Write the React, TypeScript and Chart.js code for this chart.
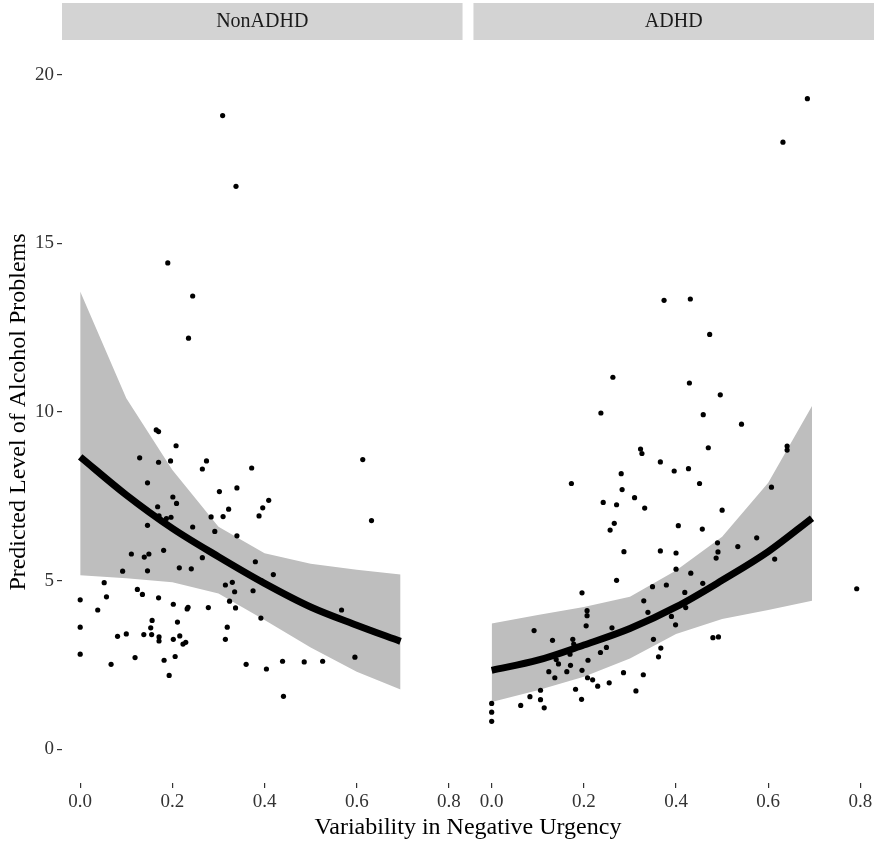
import React, { useEffect, useRef } from 'react';
import { Chart, registerables } from 'chart.js';

Chart.register(...registerables);

// ---------- data ----------
const PANELS = ['NonADHD', 'ADHD'];
const X_TICKS = [0, 0.2, 0.4, 0.6, 0.8];
const Y_TICKS = [0, 5, 10, 15, 20];
const X_TITLE = 'Variability in Negative Urgency';
const Y_TITLE = 'Predicted Level of Alcohol Problems';

const NON_X = [
  0.309, 0.338, 0.190, 0.244, 0.235, 0.165, 0.170, 0.208, 0.129, 0.170, 0.196, 0.274, 0.265, 0.372, 0.146,
  0.340, 0.302, 0.201, 0.209, 0.409, 0.168, 0.396, 0.322, 0.171, 0.197, 0.187, 0.284, 0.310, 0.388, 0.146,
  0.244, 0.292, 0.340, 0.181, 0.111, 0.149, 0.139, 0.265, 0.380, 0.092, 0.146, 0.215, 0.241, 0.419, 0.394,
  0.052, 0.315, 0.330, 0.124, 0.135, 0.335, 0.375, 0.057, 0.170, 0.000, 0.324, 0.202, 0.234, 0.232, 0.278,
  0.337, 0.038, 0.567, 0.392, 0.156, 0.211, 0.000, 0.153, 0.319, 0.081, 0.100, 0.138, 0.155, 0.171, 0.171,
  0.202, 0.216, 0.229, 0.223, 0.315, 0.000, 0.119, 0.206, 0.182, 0.067, 0.360, 0.404, 0.439, 0.486, 0.526,
  0.596, 0.193, 0.441, 0.613, 0.632,
];
const NON_Y = [
  18.79, 16.69, 14.42, 13.44, 12.19, 9.47, 9.42, 9.00, 8.64, 8.51, 8.55, 8.55, 8.31, 8.34, 7.90,
  7.75, 7.64, 7.48, 7.29, 7.38, 7.19, 7.16, 7.12, 6.92, 6.88, 6.84, 6.89, 6.90, 6.92, 6.64,
  6.59, 6.46, 6.33, 5.90, 5.79, 5.79, 5.70, 5.68, 5.56, 5.28, 5.29, 5.38, 5.35, 5.18, 4.99,
  4.94, 4.87, 4.95, 4.74, 4.59, 4.67, 4.70, 4.52, 4.49, 4.43, 4.39, 4.30, 4.21, 4.16, 4.20,
  4.19, 4.13, 4.13, 3.89, 3.82, 3.77, 3.62, 3.60, 3.62, 3.35, 3.42, 3.40, 3.40, 3.33, 3.21,
  3.26, 3.36, 3.17, 3.12, 3.26, 2.82, 2.72, 2.75, 2.64, 2.52, 2.52, 2.38, 2.61, 2.59, 2.61,
  2.73, 2.19, 1.57, 8.59, 6.78,
];

const ADHD_X = [
  0.685, 0.632, 0.374, 0.431, 0.473, 0.263, 0.429, 0.496, 0.237, 0.459, 0.542, 0.470, 0.641, 0.641, 0.323,
  0.326, 0.366, 0.396, 0.427, 0.281, 0.173, 0.451, 0.607, 0.283, 0.310, 0.242, 0.271, 0.332, 0.500, 0.266,
  0.257, 0.405, 0.457, 0.575, 0.490, 0.534, 0.614, 0.287, 0.366, 0.400, 0.491, 0.487, 0.400, 0.432, 0.271,
  0.458, 0.379, 0.349, 0.792, 0.196, 0.419, 0.330, 0.421, 0.207, 0.339, 0.207, 0.390, 0.205, 0.399, 0.261,
  0.092, 0.132, 0.176, 0.351, 0.480, 0.492, 0.178, 0.249, 0.367, 0.236, 0.170, 0.362, 0.209, 0.140, 0.145,
  0.171, 0.196, 0.124, 0.163, 0.286, 0.329, 0.137, 0.208, 0.219, 0.255, 0.230, 0.182, 0.313, 0.106, 0.083,
  0.106, 0.195, 0.063, 0.114, 0.000, 0.000, 0.000,
];
const ADHD_Y = [
  19.29, 18.00, 13.31, 13.35, 12.30, 11.03, 10.86, 10.51, 9.97, 9.92, 9.64, 8.94, 8.99, 8.87, 8.90,
  8.77, 8.52, 8.25, 8.32, 8.17, 7.88, 7.88, 7.77, 7.70, 7.46, 7.32, 7.25, 7.15, 7.09, 6.70,
  6.50, 6.63, 6.53, 6.27, 6.12, 6.01, 5.64, 5.86, 5.88, 5.82, 5.85, 5.67, 5.34, 5.22, 5.01,
  4.92, 4.87, 4.82, 4.76, 4.64, 4.65, 4.40, 4.20, 4.11, 4.06, 3.96, 3.94, 3.66, 3.69, 3.60,
  3.52, 3.23, 3.26, 3.26, 3.31, 3.33, 3.12, 3.02, 3.00, 2.87, 2.82, 2.74, 2.64, 2.66, 2.53,
  2.49, 2.34, 2.30, 2.30, 2.27, 2.21, 2.12, 2.12, 2.06, 1.97, 1.87, 1.78, 1.73, 1.75, 1.56,
  1.47, 1.48, 1.30, 1.23, 1.36, 1.10, 0.83,
];

const FIT_X = [0, 0.1, 0.2, 0.3, 0.4, 0.5, 0.6, 0.695];
const NON_FIT = [8.67, 7.54, 6.55, 5.71, 4.92, 4.22, 3.68, 3.2];
const NON_HI = [13.57, 10.41, 8.28, 6.6, 5.81, 5.5, 5.32, 5.18];
const NON_LO = [5.16, 5.07, 4.95, 4.62, 3.83, 3.02, 2.3, 1.77];
const ADHD_FIT = [2.34, 2.64, 3.09, 3.58, 4.22, 5.01, 5.86, 6.85];
const ADHD_HI = [3.73, 3.98, 4.22, 4.52, 5.3, 6.3, 7.9, 10.18];
const ADHD_LO = [1.4, 1.75, 2.15, 2.69, 3.42, 3.86, 4.13, 4.4];

// ---------- layout (not data) ----------
const X_LO = -0.0395;
const X_HI = 0.8295;
const RIGHT_OFFSET = 0.8927;
const FONT = '"Liberation Serif", "Times New Roman", serif';

const pts = (xs: number[], ys: number[], off: number) => xs.map((x, i) => ({ x: x + off, y: ys[i] }));

const stripPlugin = {
  id: 'strips',
  beforeDraw(chart: any) {
    const { ctx, chartArea, scales } = chart;
    const xs = scales.x;
    const ranges = [
      [X_LO, X_HI],
      [RIGHT_OFFSET + X_LO, RIGHT_OFFSET + X_HI],
    ];
    ctx.save();
    ranges.forEach(([a, b], i) => {
      const l = xs.getPixelForValue(a);
      const r = Math.min(xs.getPixelForValue(b), chartArea.right);
      const top = chartArea.top - 38;
      ctx.fillStyle = '#D3D3D3';
      ctx.fillRect(l, top, r - l, 37);
      ctx.fillStyle = '#1A1A1A';
      ctx.font = `20px ${FONT}`;
      ctx.textAlign = 'center';
      ctx.textBaseline = 'middle';
      ctx.fillText(PANELS[i], (l + r) / 2, top + 19);
    });
    ctx.restore();
  },
};

export default function App() {
  const ref = useRef<HTMLCanvasElement>(null);

  useEffect(() => {
    if (!ref.current) return;
    const ribbon = (lo: number[], hi: number[], off: number) => [
      {
        type: 'line',
        data: pts(FIT_X, lo, off),
        borderWidth: 0,
        pointRadius: 0,
        tension: 0,
        fill: false,
        order: 5,
      },
      {
        type: 'line',
        data: pts(FIT_X, hi, off),
        borderWidth: 0,
        pointRadius: 0,
        tension: 0,
        fill: '-1',
        backgroundColor: '#BEBEBE',
        order: 5,
      },
    ];
    const scatter = (xs: number[], ys: number[], off: number) => ({
      type: 'scatter',
      data: pts(xs, ys, off),
      pointRadius: 2.6,
      pointBackgroundColor: '#000',
      pointBorderWidth: 0,
      backgroundColor: '#000',
      borderWidth: 0,
      order: 3,
    });
    const fit = (ys: number[], off: number) => ({
      type: 'line',
      data: pts(FIT_X, ys, off),
      borderColor: '#000',
      borderWidth: 7,
      borderCapStyle: 'butt',
      pointRadius: 0,
      cubicInterpolationMode: 'monotone',
      fill: false,
      order: 1,
    });

    const chart = new Chart(ref.current, {
      type: 'scatter',
      data: {
        datasets: [
          ...ribbon(NON_LO, NON_HI, 0),
          ...ribbon(ADHD_LO, ADHD_HI, RIGHT_OFFSET),
          scatter(NON_X, NON_Y, 0),
          scatter(ADHD_X, ADHD_Y, RIGHT_OFFSET),
          fit(NON_FIT, 0),
          fit(ADHD_FIT, RIGHT_OFFSET),
        ] as any,
      },
      options: {
        animation: false,
        responsive: false,
        devicePixelRatio: 1,
        events: [],
        layout: { padding: { top: 41, right: 2, left: 0, bottom: 0 } },
        plugins: { legend: { display: false }, tooltip: { enabled: false } },
        scales: {
          x: {
            type: 'linear',
            min: X_LO,
            max: RIGHT_OFFSET + X_HI,
            afterBuildTicks: (s: any) => {
              s.ticks = [
                ...X_TICKS.map((v) => ({ value: v })),
                ...X_TICKS.map((v) => ({ value: v + RIGHT_OFFSET })),
              ];
            },
            afterFit: (s: any) => {
              s.height = 63;
            },
            ticks: {
              autoSkip: false,
              maxRotation: 0,
              minRotation: 0,
              padding: 3,
              color: '#333',
              font: { family: FONT, size: 19 },
              callback: (v: any) => {
                const n = Number(v);
                const t = n > RIGHT_OFFSET - 0.05 ? n - RIGHT_OFFSET : n;
                return Math.abs(t).toFixed(1);
              },
            },
            grid: { drawOnChartArea: false, drawTicks: true, tickLength: 5, color: '#333', lineWidth: 1.2 },
            border: { display: false },
            title: {
              display: true,
              text: X_TITLE,
              color: '#000',
              font: { family: FONT, size: 24 },
              padding: { top: 4, bottom: 4 },
            },
          },
          y: {
            type: 'linear',
            min: -1,
            max: 21,
            afterBuildTicks: (s: any) => {
              s.ticks = Y_TICKS.map((v) => ({ value: v }));
            },
            afterFit: (s: any) => {
              s.width = 62;
            },
            ticks: {
              padding: 3,
              color: '#333',
              font: { family: FONT, size: 19 },
              callback: (v: any) => String(v),
            },
            grid: { drawOnChartArea: false, drawTicks: true, tickLength: 5, color: '#333', lineWidth: 1.2 },
            border: { display: false },
            title: {
              display: true,
              text: Y_TITLE,
              color: '#000',
              font: { family: FONT, size: 24 },
              padding: { top: 4, bottom: 4 },
            },
          },
        },
      } as any,
      plugins: [stripPlugin],
    });
    return () => chart.destroy();
  }, []);

  return (
    <div style={{ position: 'absolute', left: 0, top: 0, width: 878, height: 846, background: '#fff' }}>
      <canvas ref={ref} width={878} height={846} style={{ width: 878, height: 846, display: 'block' }} />
    </div>
  );
}
